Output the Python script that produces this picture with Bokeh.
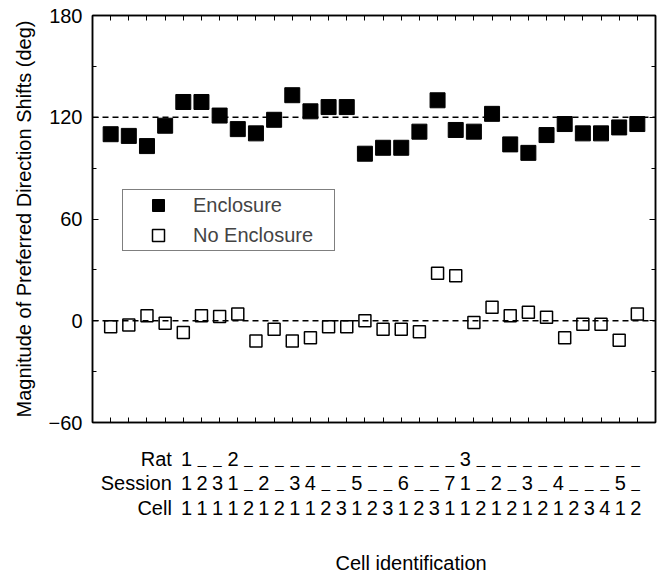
from bokeh.plotting import figure
from bokeh.layouts import column
from bokeh.models import (Range1d, FixedTicker, LinearAxis, Span, Legend, LegendItem,
                          ColumnDataSource)
from bokeh.embed import file_html
from bokeh.resources import INLINE
from bokeh.core.properties import value

# ---- data ----
cells = list(range(1, 31))
enclosure = [110, 109, 103, 115, 129, 129, 121, 113, 110.5, 118.5,
             133, 123.5, 126, 126, 98.5, 102, 102, 111.5, 130, 112.5,
             111.5, 122, 104, 99, 109.5, 116, 110.5, 110.5, 114, 116]
no_enclosure = [-3.5, -2.5, 3, -1.5, -7, 3, 2.5, 4, -12, -5,
                -12, -10, -3.5, -3.5, 0, -5, -5, -6.5, 28, 26.5,
                -1, 8, 3, 5, 2, -10, -2, -2, -11.5, 4]
rat_labels = ["1", "_", "_", "2"] + ["_"] * 14 + ["3"] + ["_"] * 11
session_labels = ["1", "2", "3", "1", "_", "2", "_", "3", "4", "_",
                  "_", "5", "_", "_", "6", "_", "_", "7", "1", "_",
                  "2", "_", "3", "_", "4", "_", "_", "_", "5", "_"]
cell_labels = ["1", "1", "1", "1", "2", "1", "2", "1", "1", "2",
               "3", "1", "2", "3", "1", "2", "3", "1", "1", "2",
               "1", "2", "1", "2", "1", "2", "3", "4", "1", "2"]
row_names = ["Rat", "Session", "Cell"]
y_ticks = [-60, 0, 60, 120, 180]
y_minor = [-30, 30, 90, 150]
ref_lines = [120, 0]
x_lo, x_hi = 0, 31

FONT = "Liberation Sans"
FS = "20px"
FS_DASH = "15px"

# ---- layout constants (pixels) ----
W = 660
LEFT, RIGHT_EDGE, TOP, BOTTOM = 92, 655, 15, 422
H1 = 438
H2 = 134
ROW_PAGE_Y = [458, 482, 507]
TITLE_PAGE_Y = 562

p = figure(width=W, height=H1, x_range=Range1d(x_lo, x_hi), y_range=Range1d(-60, 180),
           output_backend="svg", toolbar_location=None,
           min_border_left=LEFT, min_border_right=W - RIGHT_EDGE, min_border_top=TOP,
           min_border_bottom=H1 - BOTTOM)
p.background_fill_color = "white"
p.border_fill_color = "white"
p.outline_line_color = "black"
p.outline_line_width = 1.5
p.xgrid.visible = False
p.ygrid.visible = False


def quiet(axis):
    axis.major_label_text_font_size = "1px"
    axis.major_label_text_color = None
    axis.major_label_standoff = 0


xa = p.xaxis[0]
xa.ticker = FixedTicker(ticks=cells)
quiet(xa)
xa.major_tick_in = 5
xa.major_tick_out = 0
xa.minor_tick_line_color = None
xa.axis_line_width = 1.5

ya = p.yaxis[0]
ya.ticker = FixedTicker(ticks=y_ticks, minor_ticks=y_minor)
ya.major_tick_in = 6
ya.major_tick_out = 0
ya.minor_tick_in = 4
ya.minor_tick_out = 0
ya.major_label_standoff = 10
ya.major_label_text_font = FONT
ya.major_label_text_font_size = FS
ya.major_label_text_color = "black"
ya.axis_line_width = 1.5
ya.axis_label = "Magnitude of Preferred Direction Shifts (deg)"
ya.axis_label_text_font = FONT
ya.axis_label_text_font_size = FS
ya.axis_label_text_font_style = "normal"
ya.axis_label_text_color = "black"
ya.axis_label_standoff = 11

top = LinearAxis(ticker=FixedTicker(ticks=cells), major_tick_in=5, major_tick_out=0,
                 minor_tick_line_color=None, axis_line_width=1.5)
quiet(top)
p.add_layout(top, "above")
right = LinearAxis(ticker=FixedTicker(ticks=y_ticks, minor_ticks=y_minor),
                   major_tick_in=6, major_tick_out=0, minor_tick_in=4, minor_tick_out=0,
                   axis_line_width=1.5)
quiet(right)
p.add_layout(right, "right")

for loc in ref_lines:
    p.add_layout(Span(location=loc, dimension="width", line_color="black",
                      line_width=1.3, line_dash="6 4"))

r1 = p.scatter(x=cells, y=enclosure, marker="square", size=15,
               fill_color="black", line_color="black")
r2 = p.scatter(x=cells, y=no_enclosure, marker="square", size=12,
               fill_alpha=0, line_color="black", line_width=1.5)

legend = Legend(items=[LegendItem(label="Enclosure", renderers=[r1]),
                       LegendItem(label="No Enclosure", renderers=[r2])],
                location=(30, 171), padding=0, spacing=0, glyph_width=70,
                glyph_height=30, label_height=30, label_standoff=0, label_width=141,
                label_text_font=FONT, label_text_font_size=FS,
                label_text_baseline="middle",
                border_line_color="black", border_line_width=1,
                background_fill_color="white", background_fill_alpha=1)
p.add_layout(legend)

# ---- lower panel with the cell identification rows ----
px_per_unit = (RIGHT_EDGE - LEFT) / (x_hi - x_lo)
x2_start = x_lo - LEFT / px_per_unit
x2_end = x_hi + (W - RIGHT_EDGE) / px_per_unit
p2 = figure(width=W, height=H2, x_range=Range1d(x2_start, x2_end), y_range=Range1d(0, H2),
            output_backend="svg", toolbar_location=None, x_axis_type=None, y_axis_type=None,
            min_border_left=0, min_border_right=0, min_border_top=0, min_border_bottom=0)
p2.outline_line_color = None
p2.xgrid.visible = False
p2.ygrid.visible = False
p2.background_fill_color = "white"
p2.border_fill_color = "white"

row_y = [H2 - (py - H1) for py in ROW_PAGE_Y]
fields = {"rat": rat_labels, "session": session_labels, "cell": cell_labels}
data = dict(x=cells)
for name, labels in fields.items():
    data[name] = labels
    data[name + "_fs"] = [FS_DASH if t == "_" else FS for t in labels]
src = ColumnDataSource(data)
for field, yy in zip(fields.keys(), row_y):
    p2.text(x="x", y=yy, text=field, source=src, text_align="center",
            text_baseline="middle", text_font=value(FONT), text_font_size=field + "_fs",
            text_color="black")
name_x = x2_start + (LEFT + 1) / px_per_unit
p2.text(x=[name_x] * 3, y=row_y, text=row_names, text_align="right",
        text_baseline="middle", text_font=value(FONT), text_font_size=FS,
        text_color="black")
p2.text(x=[(x_lo + x_hi) / 2], y=[H2 - (TITLE_PAGE_Y - H1)], text=["Cell identification"],
        text_align="center", text_baseline="middle", text_font=value(FONT),
        text_font_size=FS, text_color="black")

layout = column(p, p2, spacing=0)
open("out.html", "w").write(file_html(layout, INLINE))
